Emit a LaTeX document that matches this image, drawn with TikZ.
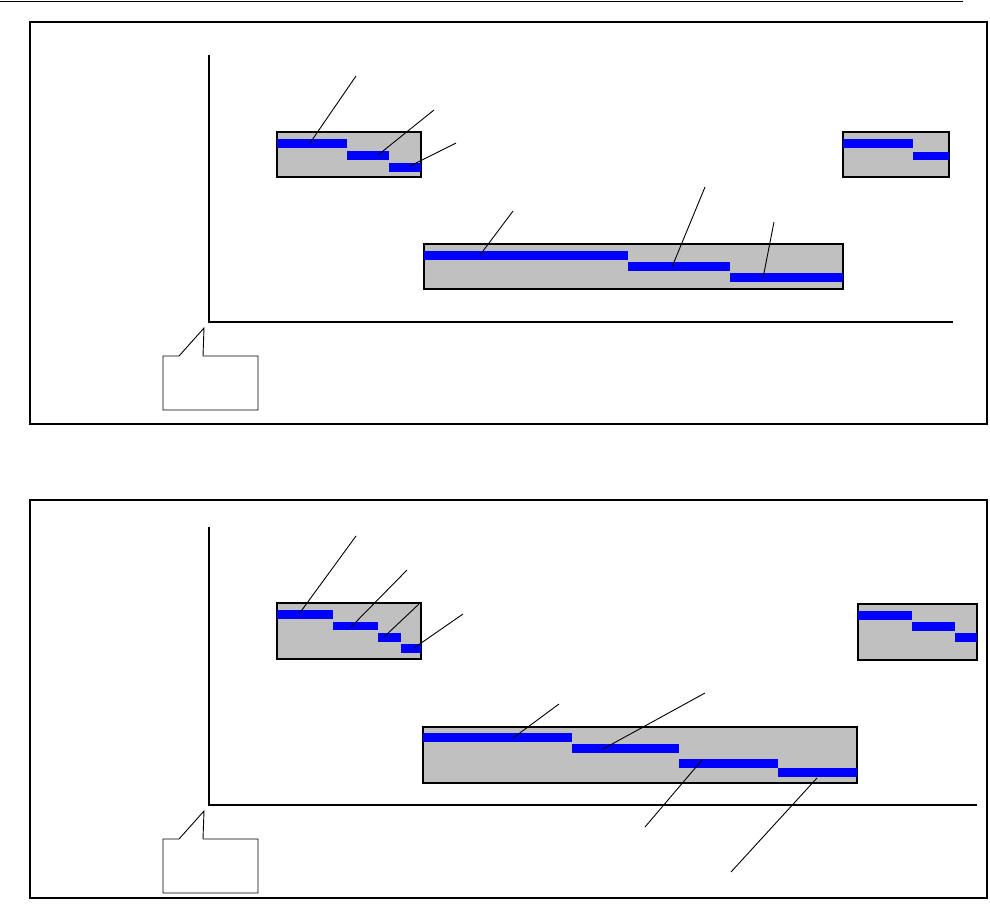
\documentclass[tikz,border=0pt]{standalone}
\definecolor{boxgray}{RGB}{192,192,192}
\definecolor{barblue}{RGB}{0,0,255}
\tikzset{
  panel/.style={draw=black,line width=2pt},
  axis/.style={draw=black,line width=2.6pt},
  grp/.style={fill=boxgray,draw=black,line width=1.4pt},
  bar/.style={fill=barblue,draw=none},
  leader/.style={draw=black,line width=0.9pt},
  callout/.style={draw=black,fill=white,line width=0.9pt},
}
\begin{document}
\begin{tikzpicture}[x=1pt,y=-1pt]
\useasboundingbox (0,0) rectangle (990,913);
\draw[line width=1pt] (0,1) -- (963,1);
% ---------- top panel ----------
\draw[panel] (30,22) rectangle (987,424);
\draw[axis] (209,55) -- (209,322) -- (953,322);
\draw[callout] (163,356) -- (179,356) -- (204,328) -- (203,356) -- (258,356) -- (258,410) -- (163,410) -- cycle;
% box A
\draw[grp] (277,132) rectangle (421,177);
\fill[bar] (277,139) rectangle (347,148);
\fill[bar] (347,151) rectangle (389,160);
\fill[bar] (389,163) rectangle (421,172);
\coordinate (a1) at (310,143); \coordinate (a1e) at (356,76);
\coordinate (a2) at (378,155); \coordinate (a2e) at (434,110);
\coordinate (a3) at (410,166); \coordinate (a3e) at (456,143);
\draw[leader] (a1) -- (a1e);
\draw[leader] (a2) -- (a2e);
\draw[leader] (a3) -- (a3e);
% box B
\draw[grp] (424,244) rectangle (843,289);
\fill[bar] (424,251) rectangle (628,260);
\fill[bar] (628,262) rectangle (730,271);
\fill[bar] (730,273) rectangle (843,282);
\coordinate (b1) at (480,255); \coordinate (b1e) at (513,211);
\coordinate (b2) at (672,267); \coordinate (b2e) at (705,187);
\coordinate (b3) at (763,278); \coordinate (b3e) at (774,222);
\draw[leader] (b1) -- (b1e);
\draw[leader] (b2) -- (b2e);
\draw[leader] (b3) -- (b3e);
% box C
\draw[grp] (843,132) rectangle (949,177);
\fill[bar] (843,139) rectangle (913,148);
\fill[bar] (913,152) rectangle (949,160);
% ---------- bottom panel ----------
\draw[panel] (30,500) rectangle (987,898);
\draw[axis] (209,527) -- (209,805) -- (977,805);
\draw[callout] (163,839) -- (179,839) -- (204,811) -- (203,839) -- (258,839) -- (258,893) -- (163,893) -- cycle;
% box D
\draw[grp] (277,603) rectangle (421,659);
\fill[bar] (277,610) rectangle (333,619);
\fill[bar] (333,622) rectangle (378,630);
\fill[bar] (378,633) rectangle (401,642);
\fill[bar] (401,644) rectangle (421,653);
\coordinate (d1) at (299,614); \coordinate (d1e) at (356,536);
\coordinate (d2) at (351,627); \coordinate (d2e) at (407,570);
\coordinate (d3) at (384,637); \coordinate (d3e) at (419,604);
\coordinate (d4) at (414,648); \coordinate (d4e) at (463,614);
\draw[leader] (d1) -- (d1e);
\draw[leader] (d2) -- (d2e);
\draw[leader] (d3) -- (d3e);
\draw[leader] (d4) -- (d4e);
% box E
\draw[grp] (423,727) rectangle (857,783);
\fill[bar] (423,733) rectangle (572,742);
\fill[bar] (572,744) rectangle (679,753);
\fill[bar] (679,759) rectangle (778,768);
\fill[bar] (778,768) rectangle (857,777);
\coordinate (e1) at (513,738); \coordinate (e1e) at (559,704);
\coordinate (e2) at (603,749); \coordinate (e2e) at (705,693);
\coordinate (e3) at (702,760); \coordinate (e3e) at (645,827);
\coordinate (e4) at (817,778); \coordinate (e4e) at (731,872);
\draw[leader] (e1) -- (e1e);
\draw[leader] (e2) -- (e2e);
\draw[leader] (e3) -- (e3e);
\draw[leader] (e4) -- (e4e);
% box F
\draw[grp] (858,604) rectangle (977,660);
\fill[bar] (858,611) rectangle (912,620);
\fill[bar] (912,622) rectangle (955,631);
\fill[bar] (955,633) rectangle (977,642);
\end{tikzpicture}
\end{document}
